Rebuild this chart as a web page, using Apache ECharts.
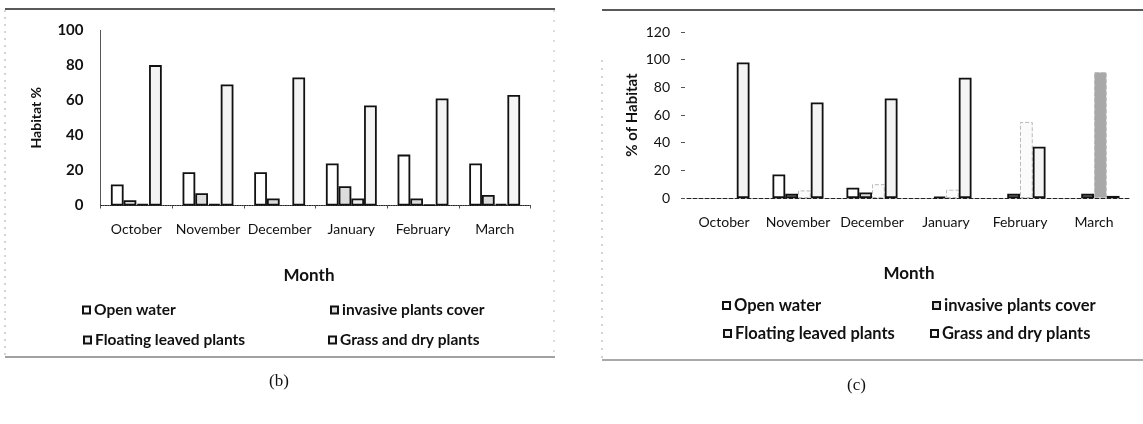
<!DOCTYPE html>
<html><head><meta charset="utf-8">
<script src="https://cdn.jsdelivr.net/npm/echarts@6/dist/echarts.min.js"></script>
<style>html,body{margin:0;padding:0;background:#fff}#c{width:1143px;height:424px}</style>
</head><body><div id="c"></div>
<script>
const months = ['October','November','December','January','February','March'];
const seriesNames = ['Open water','invasive plants cover','Floating leaved plants','Grass and dry plants'];
// panel (b)
const bOpen = [12,19,19,24,29,24];
const bInvasive = [3,7,4,11,4,6];
const bFloating = [1,1,0,4,0.5,1];
const bGrass = [80,69,73,57,61,63];
// panel (c)
const cOpen = [0,17,7.5,0,0,0];
const cInvasive = [0,3,4,1,3,3];
const cFloating = [0,5.5,10,6,55,91];
const cGrass = [98,69,72,87,37,1.5];
const bTicks = [0,20,40,60,80,100];
const cTicks = [0,20,40,60,80,100,120];

const FONT = 'Lato';
const fills = ['#ffffff','#dcdcdc','#eeeeee','#f4f4f4'];
// zero values are simply not drawn (no outline on the baseline)
const hideZero = arr => arr.map(v => v === 0 ? '-' : v);

function bar(name, data, xi, idx, extra) {
  return Object.assign({
    name, type:'bar', data:hideZero(data), xAxisIndex:xi, yAxisIndex:xi,
    barGap:'0%', barCategoryGap: xi===0 ? '29%' : '31%',
    itemStyle:{color:fills[idx], borderColor:'#111', borderWidth:1.8},
    emphasis:{disabled:true}
  }, extra||{});
}

const chart = echarts.init(document.getElementById('c'), null, {renderer:'canvas'});
function leg(name, left, top, size){
  return {data:[name], left, top, padding:0, icon:'rect', itemWidth:7, itemHeight:7, itemGap:0,
    selectedMode:false,
    textStyle:{fontFamily:FONT, fontSize:size, fontWeight:'bold', color:'#111', padding:[0,0,0,-1]}};
}

chart.setOption({
  animation:false,
  textStyle:{fontFamily:FONT},
  grid:[
    {left:100.5, top:30, width:430, height:175.5},
    {left:687, top:32, width:444, height:166}
  ],
  xAxis:[
    {type:'category', gridIndex:0, data:months,
     axisLine:{lineStyle:{color:'#222', type:'dotted', width:1.2}},
     axisTick:{show:true, length:3, lineStyle:{color:'#555'}},
     axisLabel:{fontFamily:FONT, fontSize:14, color:'#111', margin:17, interval:0},
     name:'Month', nameLocation:'middle', nameGap:62,
     nameTextStyle:{fontFamily:FONT, fontSize:17, fontWeight:'bold', color:'#111', padding:[0,13,0,0]}},
    {type:'category', gridIndex:1, data:months,
     axisLine:{lineStyle:{color:'#222', type:'dashed', width:1}},
     axisTick:{show:false},
     axisLabel:{fontFamily:FONT, fontSize:14, color:'#111', margin:17, interval:0},
     name:'Month', nameLocation:'middle', nameGap:67,
     nameTextStyle:{fontFamily:FONT, fontSize:17, fontWeight:'bold', color:'#111'}}
  ],
  yAxis:[
    {type:'value', gridIndex:0, min:bTicks[0], max:bTicks[bTicks.length-1], interval:20,
     splitLine:{show:false},
     axisLine:{show:true, lineStyle:{color:'#444', type:'dotted'}},
     axisTick:{show:false},
     axisLabel:{fontFamily:FONT, fontSize:15, fontWeight:'bold', color:'#111', margin:17},
     name:'Habitat %', nameLocation:'middle', nameGap:57, nameRotate:90,
     nameTextStyle:{fontFamily:FONT, fontSize:14, fontWeight:'bold', color:'#111'}},
    {type:'value', gridIndex:1, min:cTicks[0], max:cTicks[cTicks.length-1], interval:20,
     offset:2, splitLine:{show:false},
     axisLine:{show:false},
     axisTick:{show:true, inside:false, length:4, lineStyle:{color:'#555'}},
     axisLabel:{fontFamily:FONT, fontSize:14, color:'#111', margin:15},
     name:'% of Habitat', nameLocation:'middle', nameGap:45, nameRotate:90,
     nameTextStyle:{fontFamily:FONT, fontSize:15, fontWeight:'bold', color:'#111'}}
  ],
  legend:[
    leg(seriesNames[0], 82, 302, 15.5), leg(seriesNames[1], 330, 302, 15.5),
    leg(seriesNames[2], 83, 332, 15.5), leg(seriesNames[3], 328, 332, 15.5),
    leg(seriesNames[0], 722, 297, 16.5), leg(seriesNames[1], 932, 297, 16.5),
    leg(seriesNames[2], 723, 325, 16.5), leg(seriesNames[3], 930, 325, 16.5)
  ],
  series:[
    bar(seriesNames[0], bOpen, 0, 0),
    bar(seriesNames[1], bInvasive, 0, 1),
    bar(seriesNames[2], bFloating, 0, 2),
    bar(seriesNames[3], bGrass, 0, 3),
    bar(seriesNames[0], cOpen, 1, 0),
    bar(seriesNames[1], cInvasive, 1, 1),
    bar(seriesNames[2], cFloating, 1, 2, {itemStyle:{
      color:(p)=> p.dataIndex===5 ? '#a8a8a8' : '#fbfbfb',
      borderColor:'#bbbbbb', borderWidth:1, borderType:'dashed'}}),
    bar(seriesNames[3], cGrass, 1, 3)
  ],
  graphic:[
    {type:'line', shape:{x1:5,y1:9,x2:555,y2:9}, style:{stroke:'#222', lineWidth:1.5}},
    {type:'line', shape:{x1:5,y1:357,x2:555,y2:357}, style:{stroke:'#444', lineWidth:1.2}},
    {type:'line', shape:{x1:5,y1:10,x2:5,y2:356}, style:{stroke:'#aaa', lineWidth:1, lineDash:[2,5]}},
    {type:'line', shape:{x1:554,y1:10,x2:554,y2:356}, style:{stroke:'#bbb', lineWidth:1, lineDash:[2,8]}},
    {type:'line', shape:{x1:602,y1:10,x2:1143,y2:10}, style:{stroke:'#222', lineWidth:1.5}},
    {type:'line', shape:{x1:602,y1:360,x2:1143,y2:360}, style:{stroke:'#555', lineWidth:1.2}},
    {type:'line', shape:{x1:602,y1:60,x2:602,y2:359}, style:{stroke:'#aaa', lineWidth:1, lineDash:[2,6]}},
    {type:'text', left:269, top:373, style:{text:'(b)', font:'17px "Liberation Serif", serif', fill:'#111'}},
    {type:'text', left:847, top:377, style:{text:'(c)', font:'17px "Liberation Serif", serif', fill:'#111'}}
  ]
});
</script></body></html>
